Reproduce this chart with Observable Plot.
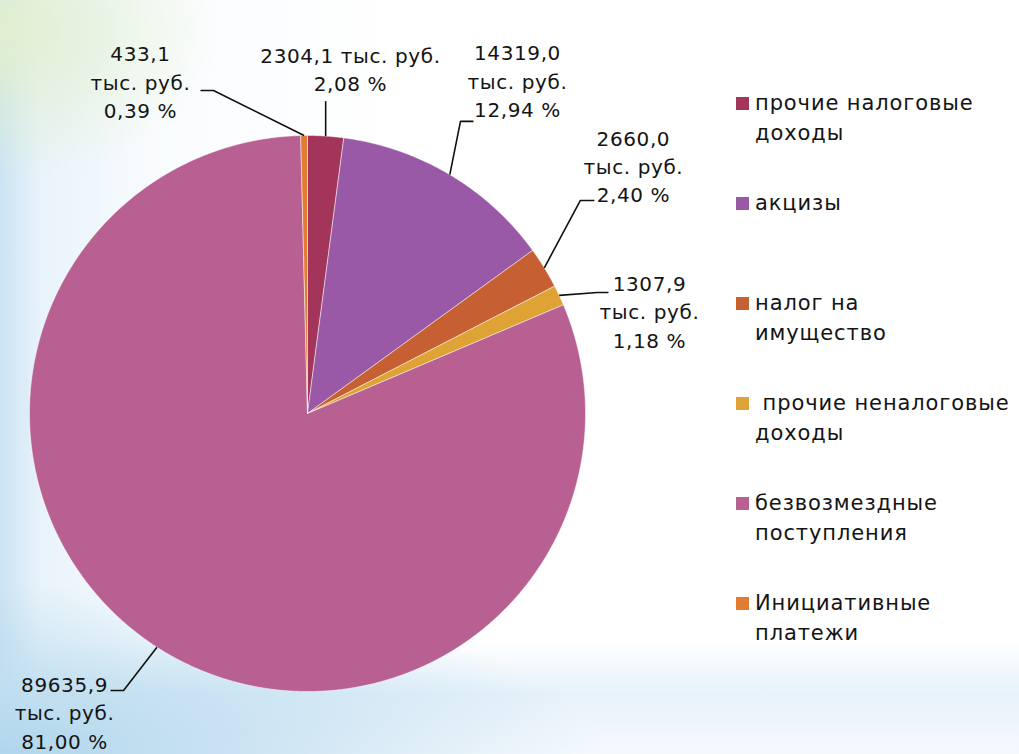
<!DOCTYPE html>
<html>
<head>
<meta charset="utf-8">
<script src="https://cdn.jsdelivr.net/npm/d3@7"></script>
<script src="https://cdn.jsdelivr.net/npm/@observablehq/plot@0.6"></script>
<style>
  html, body { margin: 0; padding: 0; }
  body {
    width: 1019px; height: 754px; overflow: hidden; position: relative;
    font-family: "DejaVu Sans", sans-serif; color: #141414;
    background:
      radial-gradient(ellipse 220px 150px at 0px 30px, rgba(226,240,205,0.95), rgba(226,240,205,0) 100%),
      radial-gradient(ellipse 600px 170px at 0px 754px, rgba(176,214,236,1), rgba(176,214,236,0) 100%),
      linear-gradient(to bottom, rgba(255,255,255,0) 85%, rgba(220,236,248,0.7) 92%, rgba(240,246,252,0.6) 100%),
      linear-gradient(to right, rgba(200,226,242,0.95) 0%, rgba(222,238,248,0.7) 4%, rgba(240,247,252,0.4) 15%, rgba(255,255,255,0) 40%),
      #ffffff;
  }
  #chart { position: absolute; left: 0; top: 0; }
  #legend { position: absolute; left: 736px; top: 0; }
  .item { position: absolute; left: 0; font-size: 21px; line-height: 30px; letter-spacing: 0.9px; white-space: pre; }
  .sw { position: absolute; left: 0; top: 8px; width: 13px; height: 13px; }
  .tx { position: absolute; left: 19px; top: -1px; }
</style>
</head>
<body>
<div id="chart"></div>
<div id="legend"></div>
<script>
// ---- data ----
const categories = ["прочие налоговые доходы", "акцизы", "налог на имущество", "прочие неналоговые доходы", "безвозмездные поступления", "Инициативные платежи"];
const values = [2304.1, 14319.0, 2660.0, 1307.9, 89635.9, 433.1];
const unitLabel = "тыс. руб.";
const legendLines = [["прочие налоговые", "доходы"], ["акцизы"], ["налог на", "имущество"], [" прочие неналоговые", "доходы"], ["безвозмездные", "поступления"], ["Инициативные", "платежи"]];

// ---- styles / layout ----
const colors = ["#a3355b", "#9959a6", "#c65f31", "#dfa234", "#b86091", "#e07d31"];
const W = 730, H = 754, CX = 307, CY = 413, R = 278;
// label layout: pixel offsets from the slice's outer mid-point
const labelLayout = [
  {inline: true,  text: [24.8, -68],   elbow: [0, -35],      end: [0, -35]},
  {inline: false, text: [67.7, -95],   elbow: [10.7, -53.3], end: [23.7, -53.3]},
  {inline: false, text: [89.1, -103],  elbow: [36.1, -67.4], end: [50.1, -67.4]},
  {inline: false, text: [90.3, 15],    elbow: [38.3, -2.9],  end: [49.3, -2.9]},
  {inline: false, text: [-92.4, 64],   elbow: [-33.4, 43.3], end: [-46.4, 43.3]},
  {inline: false, text: [-163.6, -55], elbow: [-90.6, -45],  end: [-103.6, -45]}
];

const total = d3.sum(values);
const fmt1 = v => v.toFixed(1).replace(".", ",");
const fmtP = v => (v / total * 100).toFixed(2).replace(".", ",") + " %";

// slice polygons
const piePts = [];
const mids = [];
let acc = 0;
values.forEach((v, i) => {
  const a0 = acc / total * 2 * Math.PI;
  acc += v;
  const a1 = acc / total * 2 * Math.PI;
  const n = Math.max(2, Math.ceil((a1 - a0) / (Math.PI / 720)));
  piePts.push({cat: categories[i], u: 0, v: 0});
  for (let k = 0; k <= n; k++) {
    const a = a0 + (a1 - a0) * k / n;
    piePts.push({cat: categories[i], u: Math.sin(a), v: Math.cos(a)});
  }
  piePts.push({cat: categories[i], u: 0, v: 0});
  const am = (a0 + a1) / 2;
  mids.push({u: Math.sin(am), v: Math.cos(am)});
});

const px = p => [p[0] / R, -p[1] / R];
const leaderPts = [];
const labels = [];
values.forEach((v, i) => {
  const m = mids[i], L = labelLayout[i];
  const e = px(L.elbow), t = px(L.end), tx = px(L.text);
  leaderPts.push({cat: categories[i], u: m.u, v: m.v});
  leaderPts.push({cat: categories[i], u: m.u + e[0], v: m.v + e[1]});
  leaderPts.push({cat: categories[i], u: m.u + t[0], v: m.v + t[1]});
  const text = L.inline
    ? `${fmt1(v)} ${unitLabel}\n${fmtP(v)}`
    : `${fmt1(v)}\n${unitLabel}\n${fmtP(v)}`;
  labels.push({u: m.u + tx[0], v: m.v + tx[1], text});
});

const chart = Plot.plot({
  width: W, height: H, margin: 0,
  x: {domain: [(0 - CX) / R, (W - CX) / R], axis: null},
  y: {domain: [(CY - H) / R, CY / R], axis: null},
  color: {type: "ordinal", domain: categories, range: colors},
  style: {background: "transparent", fontFamily: "DejaVu Sans, sans-serif", color: "#141414", overflow: "visible", letterSpacing: "0.6px"},
  marks: [
    Plot.line(piePts, {x: "u", y: "v", z: "cat", fill: "cat", stroke: "#ffffff", strokeWidth: 0.8, strokeOpacity: 0.6, curve: "linear"}),
    Plot.line(leaderPts, {x: "u", y: "v", z: "cat", stroke: "#111", strokeWidth: 1.6, strokeLinecap: "butt", strokeLinejoin: "miter", curve: "linear"}),
    Plot.text(labels, {x: "u", y: "v", text: "text", fontSize: 20, lineHeight: 1.42, textAnchor: "middle", lineAnchor: "middle", fill: "#141414"})
  ]
});
document.getElementById("chart").appendChild(chart);

// legend
const legend = document.getElementById("legend");
categories.forEach((c, i) => {
  const item = document.createElement("div");
  item.className = "item";
  item.style.top = (89 + 100 * i) + "px";
  const sw = document.createElement("div");
  sw.className = "sw";
  sw.style.background = colors[i];
  const tx = document.createElement("div");
  tx.className = "tx";
  tx.textContent = legendLines[i].join("\n");
  item.appendChild(sw);
  item.appendChild(tx);
  legend.appendChild(item);
});
</script>
</body>
</html>
